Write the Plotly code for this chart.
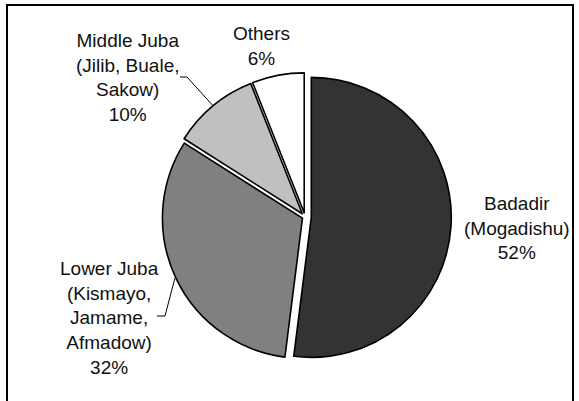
import math
import plotly.graph_objects as go

# ---- data ----
labels = ["Badadir", "Lower Juba", "Middle Juba", "Others"]
label_text = [
    "Badadir<br>(Mogadishu)",
    "Lower Juba<br>(Kismayo,<br>Jamame,<br>Afmadow)",
    "Middle Juba<br>(Jilib, Buale,<br>Sakow)",
    "Others",
]
values = [52, 32, 10, 6]
colors = ["#333333", "#808080", "#c0c0c0", "#ffffff"]
pulls = [0.045, 0.02, 0.03, 0.03]

# ---- layout constants (pixels) ----
W, H = 579, 401
CX, CY, R = 305, 217, 140  # pie centre and radius in pixels (y from top)
maxpull = max(pulls)
half = R * (1 + maxpull)

def px(x):
    return x / W

def py(y):
    return 1 - y / H

fig = go.Figure(go.Pie(
    labels=labels,
    values=values,
    sort=False,
    direction="clockwise",
    rotation=0,
    pull=pulls,
    marker=dict(colors=colors, line=dict(color="#000000", width=1.6)),
    textinfo="none",
    hoverinfo="label+percent",
    showlegend=False,
    domain=dict(x=[px(CX - half), px(CX + half)], y=[py(CY + half), py(CY - half)]),
))

# label text positions (pixel centres)
label_pos = {
    "Badadir": (517, 228),
    "Lower Juba": (109, 318),
    "Middle Juba": (128, 77),
    "Others": (261, 46),
}
total = sum(values)
annotations = []
for lab, txt, v in zip(labels, label_text, values):
    pct = round(100 * v / total)
    x, y = label_pos[lab]
    annotations.append(dict(
        x=px(x), y=py(y), xref="paper", yref="paper",
        text=f"{txt}<br>{pct}%", showarrow=False,
        xanchor="center", yanchor="middle", align="center",
        font=dict(family="Liberation Sans, Arial, sans-serif", size=19, color="#111111"),
    ))

# leader lines for the two left labels, ending at the slice mid-angle edge
shapes = []
cum = 0
mid_angle = {}
for lab, v, p in zip(labels, values, pulls):
    mid_angle[lab] = (cum + v / 2) / total * 360
    cum += v
elbows = {
    "Middle Juba": [(180, 77), (187, 77)],
    "Lower Juba": [(157, 316), (165, 316)],
}
for lab, pts in elbows.items():
    i = labels.index(lab)
    th = math.radians(mid_angle[lab])
    rr = R * (1 + pulls[i]) + 1
    ex, ey = CX + rr * math.sin(th), CY - rr * math.cos(th)
    all_pts = pts + [(ex, ey)]
    path = "M " + " L ".join(f"{px(a):.5f},{py(b):.5f}" for a, b in all_pts)
    shapes.append(dict(type="path", xref="paper", yref="paper", path=path,
                       line=dict(color="#000000", width=1)))

# chart frame (bottom edge lies outside the picture)
shapes.append(dict(type="rect", xref="paper", yref="paper",
                   x0=px(7), x1=px(573), y0=-0.1, y1=py(5),
                   line=dict(color="#000000", width=2), fillcolor="rgba(0,0,0,0)"))

fig.update_layout(
    width=W, height=H,
    margin=dict(l=0, r=0, t=0, b=0),
    paper_bgcolor="#ffffff",
    plot_bgcolor="#ffffff",
    annotations=annotations,
    shapes=shapes,
)

fig.write_html("out.html", config={"displayModeBar": False},
               post_script="document.body.style.margin='0';")
